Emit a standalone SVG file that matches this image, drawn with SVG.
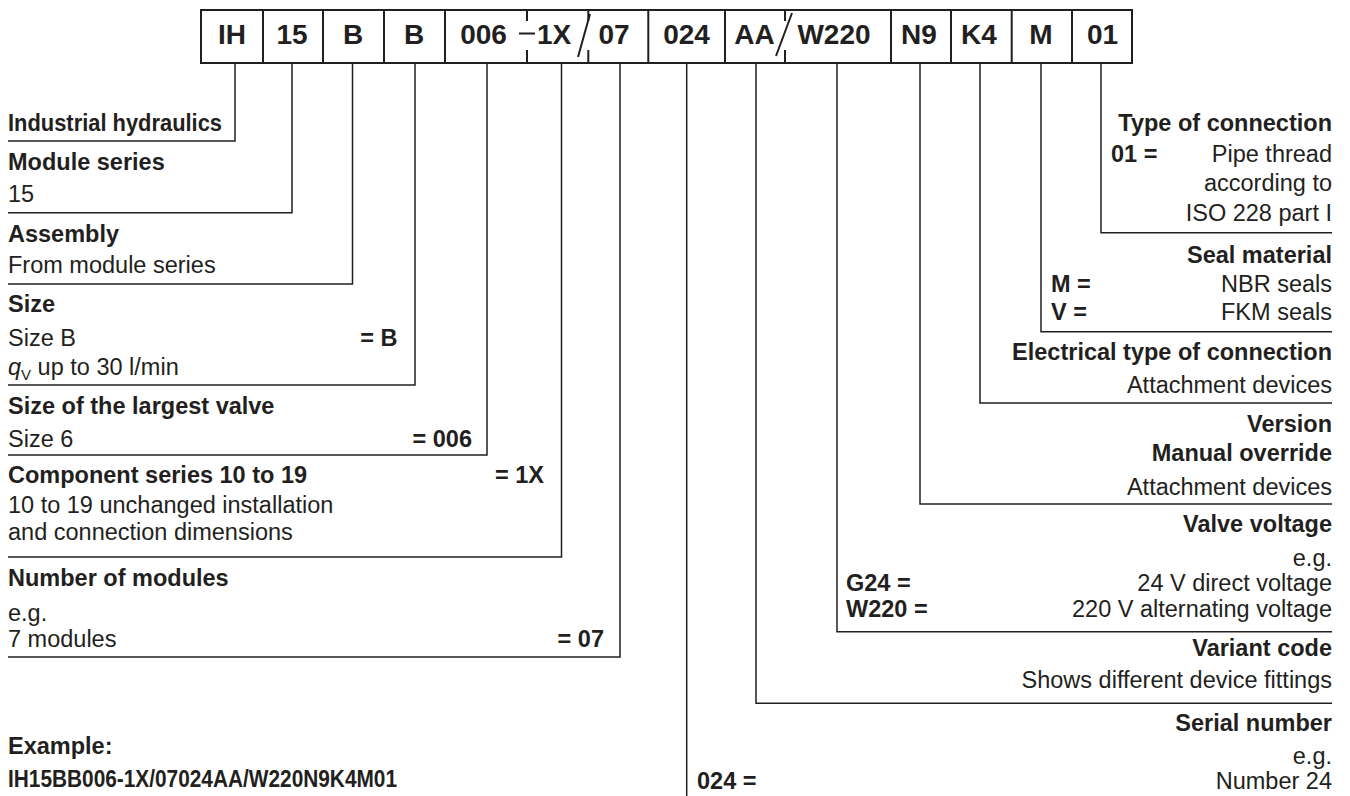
<svg xmlns="http://www.w3.org/2000/svg" width="1350" height="796" viewBox="0 0 1350 796">
<style>
text{font-family:"Liberation Sans",Arial,sans-serif;fill:#231f20;}
.h{font-size:28px;font-weight:bold;text-anchor:middle;}
.b{font-size:23.5px;font-weight:bold;}
.r{font-size:23.5px;}
.e{text-anchor:end;}
.ln{stroke:#231f20;stroke-width:1.5;fill:none;}
.hd{stroke:#231f20;stroke-width:2;fill:none;}
</style>
<rect width="1350" height="796" fill="#fff"/>
<g id="header">
<rect class="hd" x="201" y="10" width="931" height="53"/>
<path class="hd" d="M263 10V63M323 10V63M384 10V63M445 10V63M648.3 10V63M725 10V63M891 10V63M951 10V63M1011.7 10V63M1072 10V63"/>
<path class="hd" d="M527 10V21M527 50V63M588.3 10V21M588.3 50V63M785 10V21M785 50V63"/>
<path class="hd" d="M519 33.5H535M590 14L578 57M792 13L776 56"/>
<text class="h" x="232" y="43.5">IH</text>
<text class="h" x="292" y="43.5">15</text>
<text class="h" x="353" y="43.5">B</text>
<text class="h" x="414" y="43.5">B</text>
<text class="h" x="483.5" y="43.5">006</text>
<text class="h" x="554" y="43.5">1X</text>
<text class="h" x="614" y="43.5">07</text>
<text class="h" x="686.5" y="43.5">024</text>
<text class="h" x="754.5" y="43.5">AA</text>
<text class="h" x="834" y="43.5">W220</text>
<text class="h" x="919" y="43.5">N9</text>
<text class="h" x="979" y="43.5">K4</text>
<text class="h" x="1041" y="43.5">M</text>
<text class="h" x="1102.5" y="43.5">01</text>
</g>
<g id="connectors">
<path class="ln" d="M235 63V141H8"/>
<path class="ln" d="M292 63V212.7H8"/>
<path class="ln" d="M352.5 63V284H8"/>
<path class="ln" d="M415 63V385H8"/>
<path class="ln" d="M487 63V455H8"/>
<path class="ln" d="M561.5 63V557H8"/>
<path class="ln" d="M620 63V657H8"/>
<path class="ln" d="M686.7 63V796"/>
<path class="ln" d="M756 63V703.3H1332"/>
<path class="ln" d="M837 63V631.7H1332"/>
<path class="ln" d="M920 63V504H1332"/>
<path class="ln" d="M980 63V403H1332"/>
<path class="ln" d="M1041 63V331.7H1332"/>
<path class="ln" d="M1101 63V232.7H1332"/>
</g>
<g id="industrial-hydraulics">
<text class="b" x="8" y="131" textLength="214" lengthAdjust="spacingAndGlyphs">Industrial hydraulics</text>
</g>
<g id="module-series">
<text class="b" x="8" y="170">Module series</text>
<text class="r" x="8" y="201.7">15</text>
</g>
<g id="assembly">
<text class="b" x="8" y="241.7">Assembly</text>
<text class="r" x="8" y="273.3">From module series</text>
</g>
<g id="size">
<text class="b" x="8" y="311.7">Size</text>
<text class="r" x="8" y="346">Size B</text>
<text class="b e" x="397.5" y="346">= B</text>
<text class="r" x="8" y="375"><tspan font-style="italic">q</tspan><tspan font-size="15" dy="5">V</tspan><tspan dy="-5"> up to 30 l/min</tspan></text>
</g>
<g id="largest-valve">
<text class="b" x="8" y="414">Size of the largest valve</text>
<text class="r" x="8" y="447">Size 6</text>
<text class="b e" x="472" y="447">= 006</text>
</g>
<g id="component-series">
<text class="b" x="8" y="483">Component series 10 to 19</text>
<text class="b e" x="544" y="483">= 1X</text>
<text class="r" x="8" y="513">10 to 19 unchanged installation</text>
<text class="r" x="8" y="540">and connection dimensions</text>
</g>
<g id="number-of-modules">
<text class="b" x="8" y="586">Number of modules</text>
<text class="r" x="8" y="621">e.g.</text>
<text class="r" x="8" y="646.5">7 modules</text>
<text class="b e" x="604" y="646.5">= 07</text>
</g>
<g id="example">
<text class="b" x="8" y="754">Example:</text>
<text class="b" x="8" y="787" textLength="389" lengthAdjust="spacingAndGlyphs">IH15BB006-1X/07024AA/W220N9K4M01</text>
</g>
<g id="type-of-connection">
<text class="b e" x="1332" y="131">Type of connection</text>
<text class="b" x="1111" y="162">01 =</text>
<text class="r e" x="1332" y="162">Pipe thread</text>
<text class="r e" x="1332" y="191">according to</text>
<text class="r e" x="1332" y="221">ISO 228 part I</text>
</g>
<g id="seal-material">
<text class="b e" x="1332" y="263">Seal material</text>
<text class="b" x="1051" y="292">M =</text>
<text class="r e" x="1332" y="292">NBR seals</text>
<text class="b" x="1051" y="320">V =</text>
<text class="r e" x="1332" y="320">FKM seals</text>
</g>
<g id="electrical-connection">
<text class="b e" x="1332" y="360">Electrical type of connection</text>
<text class="r e" x="1332" y="392.7">Attachment devices</text>
</g>
<g id="version">
<text class="b e" x="1332" y="431.7">Version</text>
<text class="b e" x="1332" y="460.5">Manual override</text>
<text class="r e" x="1332" y="494.5">Attachment devices</text>
</g>
<g id="valve-voltage">
<text class="b e" x="1332" y="531.7">Valve voltage</text>
<text class="r e" x="1332" y="566">e.g.</text>
<text class="b" x="846" y="591">G24 =</text>
<text class="r e" x="1332" y="591">24 V direct voltage</text>
<text class="b" x="846" y="617">W220 =</text>
<text class="r e" x="1332" y="617">220 V alternating voltage</text>
</g>
<g id="variant-code">
<text class="b e" x="1332" y="656">Variant code</text>
<text class="r e" x="1332" y="688">Shows different device fittings</text>
</g>
<g id="serial-number">
<text class="b e" x="1332" y="731">Serial number</text>
<text class="r e" x="1332" y="764">e.g.</text>
<text class="b" x="697" y="789">024 =</text>
<text class="r e" x="1332" y="789">Number 24</text>
</g>
</svg>
